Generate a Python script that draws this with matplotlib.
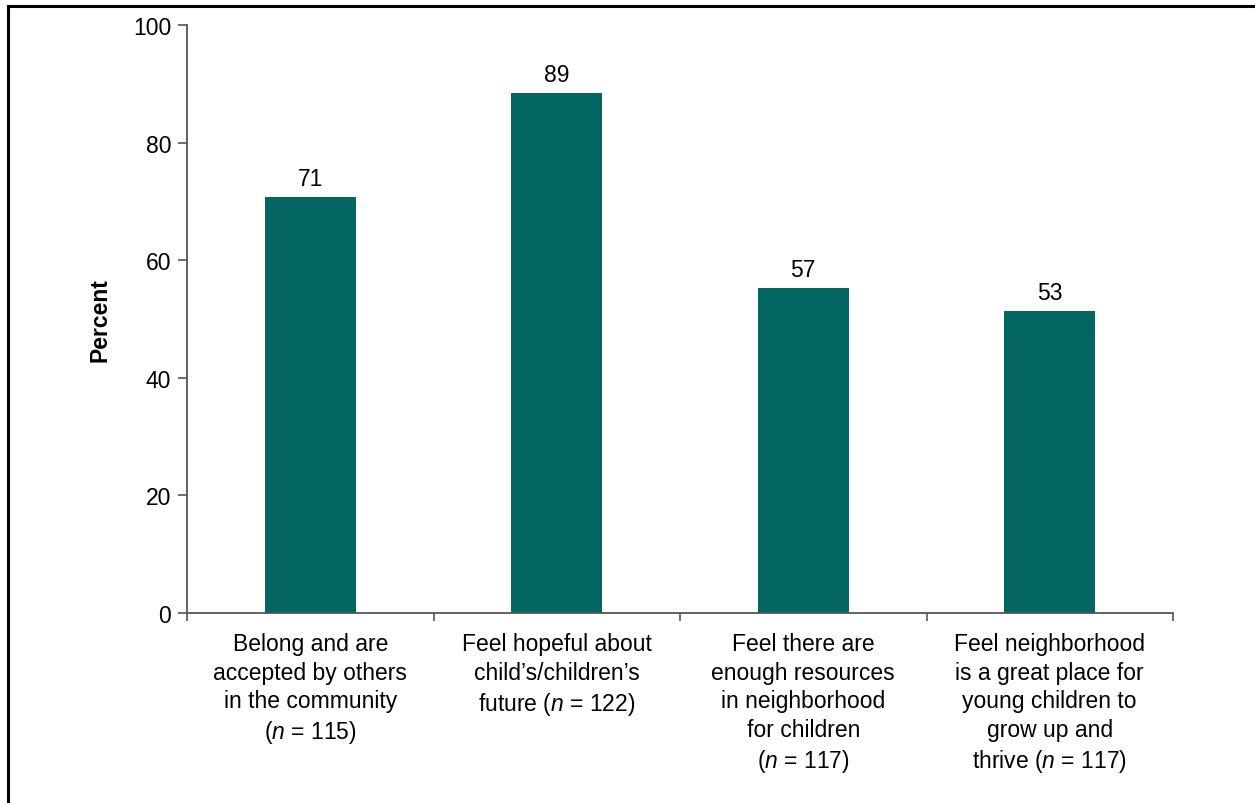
import matplotlib.pyplot as plt
from matplotlib.patches import Rectangle
from matplotlib.ticker import FixedLocator

plt.rcParams["font.family"] = ["Liberation Sans", "DejaVu Sans"]
plt.rcParams["mathtext.fontset"] = "custom"
plt.rcParams["mathtext.rm"] = "Liberation Sans"
plt.rcParams["mathtext.it"] = "Liberation Sans:italic"

# data
categories = [
    "Belong and are\naccepted by others\nin the community\n($\\mathit{n}$ = 115)",
    "Feel hopeful about\nchild\u2019s/children\u2019s\nfuture ($\\mathit{n}$ = 122)",
    "Feel there are\nenough resources\nin neighborhood\nfor children\n($\\mathit{n}$ = 117)",
    "Feel neighborhood\nis a great place for\nyoung children to\ngrow up and\nthrive ($\\mathit{n}$ = 117)",
]
values = [70.8, 88.4, 55.2, 51.3]
value_labels = ["71", "89", "57", "53"]
y_ticks = [0, 20, 40, 60, 80, 100]

bar_color = "#036663"
axis_color = "#555555"
fs = 16.5

fig = plt.figure(figsize=(12.55, 8.04), dpi=100)
ax = fig.add_axes([187 / 1255, 1 - 614 / 804, (1173 - 187) / 1255, (614 - 26) / 804])

x = list(range(len(categories)))
bars = ax.bar(x, values, width=0.37, color=bar_color, zorder=2)

for b, lab in zip(bars, value_labels):
    ax.annotate(lab, (b.get_x() + b.get_width() / 2, b.get_height()),
                xytext=(0, 5), textcoords="offset points",
                ha="center", va="bottom", fontsize=fs)

ax.set_xlim(-0.5, len(categories) - 0.5)
ax.set_ylim(0, 100)
ax.set_yticks(y_ticks)
ax.set_xticks(x)
ax.set_xticklabels(categories, fontsize=fs, linespacing=1.3, va="top")
ax.xaxis.set_minor_locator(FixedLocator([i - 0.5 for i in range(len(categories) + 1)]))
ax.tick_params(axis="x", which="major", length=0, pad=14)
ax.tick_params(axis="x", which="minor", length=6, width=1.2, color=axis_color, direction="out")
ax.tick_params(axis="y", length=6.5, width=1.2, color=axis_color, labelsize=fs, pad=5)

ax.set_ylabel("Percent", fontsize=fs, fontweight="bold", labelpad=15)

for side in ["top", "right"]:
    ax.spines[side].set_visible(False)
for side in ["left", "bottom"]:
    ax.spines[side].set_color(axis_color)
    ax.spines[side].set_linewidth(1.3)

# outer frame, cut off at right and bottom like the reference
fig.patches.append(Rectangle((8 / 1255, -0.05), 1.1, 1 - 7 / 804 + 0.05,
                             transform=fig.transFigure, fill=False,
                             edgecolor="black", linewidth=2.2))

fig.savefig("out.png", dpi=100)
